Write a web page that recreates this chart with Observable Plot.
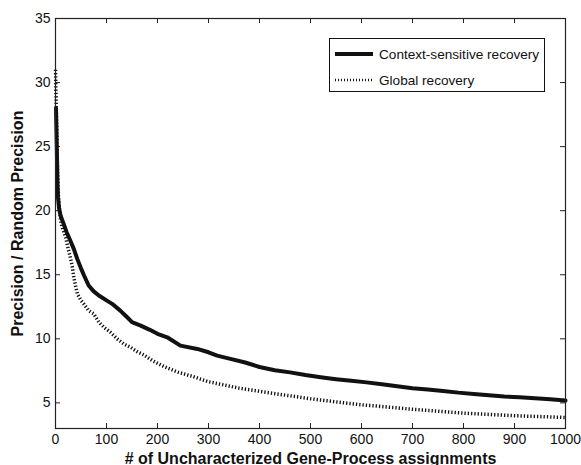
<!DOCTYPE html>
<html>
<head>
<meta charset="utf-8">
<script src="https://cdn.jsdelivr.net/npm/d3@7"></script>
<script src="https://cdn.jsdelivr.net/npm/@observablehq/plot@0.6"></script>
<style>
  body { margin: 0; background: #fff; }
  #wrap { position: relative; width: 581px; height: 465px; font-family: "Liberation Sans", Arial, sans-serif; }
  #legend { position: absolute; left: 329px; top: 38px; width: 214px; height: 52px; border: 1px solid #111; background: #fff; font-size: 13.6px; color: #111; }
  .row { position: absolute; left: 5px; display: flex; align-items: center; height: 16px; white-space: nowrap; }
  .row svg { margin-right: 4px; }
</style>
</head>
<body>
<div id="wrap"></div>
<script>
// Context-sensitive recovery (solid)
const contextX = [1, 2, 3, 4, 5, 7, 10, 16, 22, 29, 36, 43, 50, 56, 65, 75, 85, 100, 111, 127, 140, 150, 167, 185, 200, 219, 245, 278, 300, 317, 343, 372, 400, 430, 460, 490, 520, 550, 580, 610, 640, 670, 700, 730, 760, 790, 820, 850, 880, 910, 940, 970, 1000];
const contextY = [28, 26, 24, 22, 21, 20.2, 19.6, 18.97, 18.3, 17.67, 17.0, 16.2, 15.5, 14.94, 14.16, 13.7, 13.38, 13.0, 12.73, 12.2, 11.7, 11.3, 11.03, 10.7, 10.39, 10.12, 9.47, 9.21, 8.95, 8.69, 8.43, 8.15, 7.8, 7.55, 7.38, 7.17, 7.0, 6.85, 6.72, 6.6, 6.45, 6.3, 6.15, 6.05, 5.93, 5.8, 5.7, 5.6, 5.5, 5.43, 5.36, 5.28, 5.18];
// Global recovery (dotted)
const globalX = [0, 1, 2, 3, 4, 6, 8, 10, 14, 20, 25, 29, 33, 36, 40, 43, 50, 56, 65, 75, 85, 95, 108, 121, 134, 147, 160, 173, 190, 212, 240, 270, 300, 330, 360, 400, 430, 460, 500, 550, 600, 650, 700, 750, 800, 850, 900, 950, 1000];
const globalY = [31, 29, 27, 25, 23, 21, 20, 19.2, 18.6, 17.9, 17.0, 16.37, 15.6, 14.8, 14.0, 13.5, 13.0, 12.7, 12.2, 11.95, 11.3, 10.9, 10.5, 10.0, 9.6, 9.34, 9.0, 8.75, 8.3, 7.85, 7.4, 7.05, 6.65, 6.4, 6.15, 5.9, 5.72, 5.55, 5.32, 5.08, 4.85, 4.68, 4.5, 4.35, 4.2, 4.1, 4.0, 3.93, 3.86];

const xTicks = [0, 100, 200, 300, 400, 500, 600, 700, 800, 900, 1000];
const yTicks = [5, 10, 15, 20, 25, 30, 35];
const seriesNames = ["Context-sensitive recovery", "Global recovery"];
const xLabel = "# of Uncharacterized Gene-Process assignments";
const yLabel = "Precision / Random Precision";

const contextData = contextX.map((x, i) => ({x, y: contextY[i]}));
const globalData = globalX.map((x, i) => ({x, y: globalY[i]}));

const W = 581, H = 465, mT = 18, mB = 37, mL = 55, mR = 16;
const innerH = H - mT - mB, innerW = W - mL - mR;
const tk = 5;

const chart = Plot.plot({
  width: W, height: H,
  marginTop: mT, marginBottom: mB, marginLeft: mL, marginRight: mR,
  style: {fontFamily: '"Liberation Sans", Arial, sans-serif', fontSize: "14px", color: "#111", background: "#fff", overflow: "visible"},
  x: {domain: [0, 1000]},
  y: {domain: [3, 35]},
  marks: [
    Plot.axisX({ticks: xTicks, tickSize: 0, tickPadding: 6, fontSize: 14, label: null, tickFormat: d => String(d)}),
    Plot.axisY({ticks: yTicks, tickSize: 0, tickPadding: 5, fontSize: 14, label: null, tickFormat: d => String(d)}),
    Plot.axisX({ticks: [], tickSize: 0, label: xLabel, labelAnchor: "center", labelArrow: "none", labelOffset: 35, fontSize: 16, fontWeight: "bold"}),
    Plot.axisY({ticks: [], tickSize: 0, label: yLabel, labelAnchor: "center", labelArrow: "none", labelOffset: 44, fontSize: 16, fontWeight: "bold"}),
    Plot.tickX(xTicks, {x: d => d, insetTop: innerH - tk, stroke: "#222"}),
    Plot.tickX(xTicks, {x: d => d, insetBottom: innerH - tk, stroke: "#222"}),
    Plot.tickY(yTicks, {y: d => d, insetRight: innerW - tk, stroke: "#222"}),
    Plot.tickY(yTicks, {y: d => d, insetLeft: innerW - tk, stroke: "#222"}),
    Plot.line(globalData, {x: "x", y: "y", stroke: "#111", strokeWidth: 3.5, strokeDasharray: "1.3,2", strokeLinecap: "butt", curve: "linear"}),
    Plot.line(contextData, {x: "x", y: "y", stroke: "#111", strokeWidth: 4, curve: "linear"}),
    Plot.frame({stroke: "#222", strokeWidth: 1.2})
  ]
});

const wrap = document.getElementById("wrap");
wrap.appendChild(chart);

const legend = document.createElement("div");
legend.id = "legend";
legend.innerHTML = `
  <div class="row" style="top:7px"><svg width="40" height="8"><line x1="0" y1="4" x2="38" y2="4" stroke="#111" stroke-width="4"/></svg><span>${seriesNames[0]}</span></div>
  <div class="row" style="top:33px"><svg width="40" height="8"><line x1="0" y1="4" x2="38" y2="4" stroke="#111" stroke-width="2.5" stroke-dasharray="1,2"/></svg><span>${seriesNames[1]}</span></div>`;
wrap.appendChild(legend);
</script>
</body>
</html>
